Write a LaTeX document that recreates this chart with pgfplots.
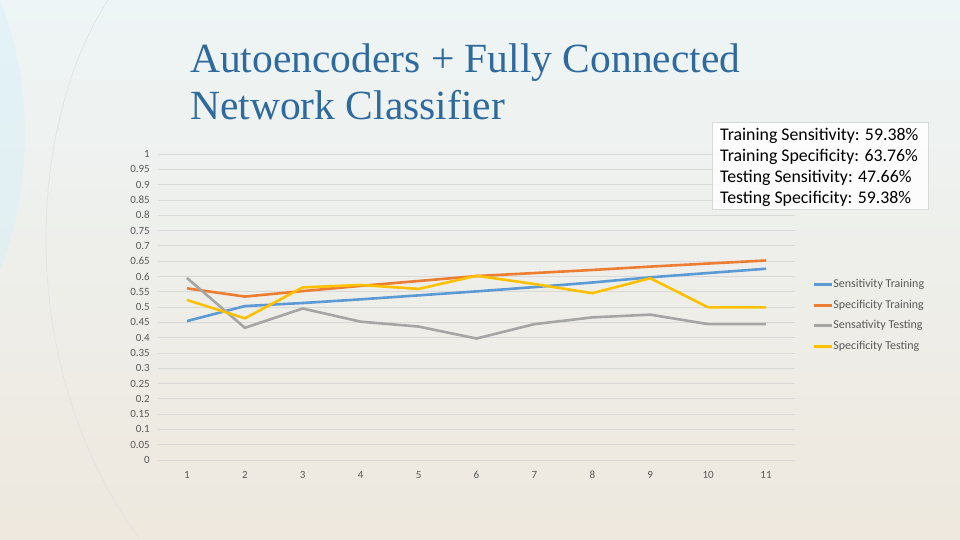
\documentclass[border=0pt]{standalone}
\usepackage{pgfplots}
\pgfplotsset{compat=1.18}
\usepackage{fontspec}
\setmainfont{Carlito}
\newfontfamily\titlefont{Liberation Serif}
\definecolor{cblue}{HTML}{5B9BD5}
\definecolor{corange}{HTML}{ED7D31}
\definecolor{cgray}{HTML}{A5A5A5}
\definecolor{cyellow}{HTML}{FFC000}
\definecolor{ttl}{HTML}{2F6A9F}
\definecolor{tick}{HTML}{595959}
\definecolor{grid}{HTML}{D9D9D9}
\definecolor{bgtop}{HTML}{EEF5F6}
\definecolor{bgmid}{HTML}{F3F1EB}
\definecolor{bgbot}{HTML}{EEE8DE}
\begin{document}
\begin{tikzpicture}
\useasboundingbox (0pt,0pt) rectangle (960pt,540pt);
\begin{scope}[x=1pt,y=1pt]
\shade[top color=bgtop, middle color=bgmid, bottom color=bgbot] (0,0) rectangle (960,540);
\fill[cyan!18!white, opacity=0.4] (0,270) .. controls (25,330) and (40,440) .. (0,540) -- cycle;
\draw[white!78!gray, line width=0.8pt] (108,540) .. controls (30,420) and (10,180) .. (140,0);
\node[anchor=base west, inner sep=0pt, font=\titlefont\fontsize{41.5}{47}\selectfont, text=ttl] at (190,467) {Autoencoders + Fully Connected};
\node[anchor=base west, inner sep=0pt, font=\titlefont\fontsize{41.5}{47}\selectfont, text=ttl] at (190,420) {Network Classifier};
\end{scope}
\begin{axis}[
  at={(158pt,80pt)}, anchor=south west,
  scale only axis, width=637pt, height=306pt,
  xmin=0.5, xmax=11.5, ymin=0, ymax=1,
  axis line style={draw=none},
  major tick length=0pt,
  tick style={draw=none},
  xtick={1,...,11},
  ytick={0,0.05,0.1,0.15,0.2,0.25,0.3,0.35,0.4,0.45,0.5,0.55,0.6,0.65,0.7,0.75,0.8,0.85,0.9,0.95,1},
  yticklabels={0,0.05,0.1,0.15,0.2,0.25,0.3,0.35,0.4,0.45,0.5,0.55,0.6,0.65,0.7,0.75,0.8,0.85,0.9,0.95,1},
  xticklabels={1,2,3,4,5,6,7,8,9,10,11},
  xmajorgrids=false, ymajorgrids=true,
  y grid style={grid, line width=0.75pt},
  ticklabel style={font=\fontsize{11}{13}\selectfont, text=tick, inner sep=0pt},
  yticklabel style={anchor=east, xshift=-8pt},
  xticklabel style={anchor=north, yshift=-11pt},
  /pgf/number format/assume math mode=true,
  legend style={at={(1.027,0.589)}, anchor=north west, draw=none, fill=none,
    font=\fontsize{12}{14}\selectfont, text=tick, inner sep=0pt, row sep=10.5pt,
    nodes={inner sep=0pt, text height=8pt, text depth=2pt}},
  legend cell align=left,
  legend image code/.code={\draw[#1, line width=3pt] (0pt,0pt) -- (18pt,0pt);},
  every axis plot/.append style={line width=2.6pt, mark=none},
]
\addplot[cblue] coordinates {(1,0.454)(2,0.503)(3,0.513)(4,0.525)(5,0.538)(6,0.551)(7,0.565)(8,0.580)(9,0.597)(10,0.611)(11,0.625)};
\addplot[corange] coordinates {(1,0.561)(2,0.534)(3,0.552)(4,0.569)(5,0.585)(6,0.601)(7,0.611)(8,0.621)(9,0.632)(10,0.642)(11,0.652)};
\addplot[cgray] coordinates {(1,0.595)(2,0.432)(3,0.495)(4,0.452)(5,0.436)(6,0.397)(7,0.444)(8,0.466)(9,0.475)(10,0.444)(11,0.444)};
\addplot[cyellow] coordinates {(1,0.523)(2,0.463)(3,0.564)(4,0.572)(5,0.559)(6,0.602)(7,0.575)(8,0.545)(9,0.594)(10,0.499)(11,0.499)};
\legend{Sensitivity Training, Specificity Training, Sensativity Testing, Specificity Testing}
\end{axis}
\begin{scope}[x=1pt,y=1pt]
\draw[grid, fill=white, fill opacity=0.85] (712,331) rectangle (928,418);
\begin{scope}[every node/.style={anchor=base west, inner sep=0pt, font=\fontsize{17.8}{20}\selectfont, text=black}]
\node at (720,399.3) {Training Sensitivity: 59.38\%};
\node at (720,378.5) {Training Specificity: 63.76\%};
\node at (720,357.3) {Testing Sensitivity: 47.66\%};
\node at (720,336.5) {Testing Specificity: 59.38\%};
\end{scope}
\end{scope}
\end{tikzpicture}
\end{document}
